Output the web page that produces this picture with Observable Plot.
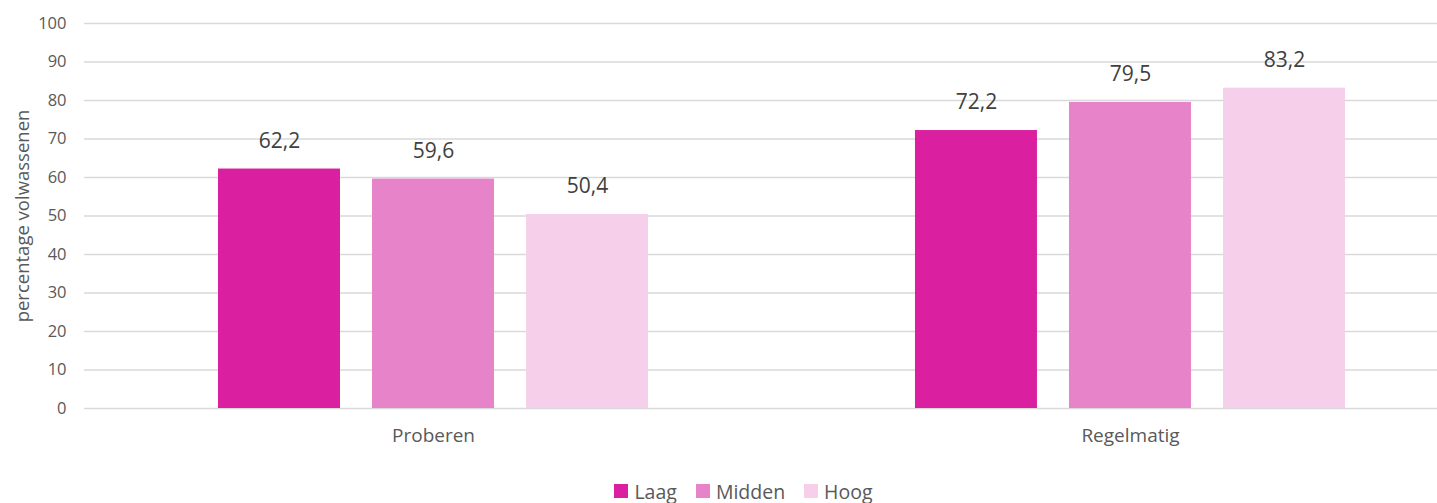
<!DOCTYPE html>
<html>
<head>
<meta charset="utf-8">
<script src="https://cdn.jsdelivr.net/npm/d3@7"></script>
<script src="https://cdn.jsdelivr.net/npm/@observablehq/plot@0.6"></script>
<style>
  body { margin: 0; background: #fff; font-family: "Open Sans", "Liberation Sans", sans-serif; overflow: hidden; }
  #chart { position: relative; width: 1437px; height: 465px; }
  #chart svg { position: absolute; left: 0; top: 0; }
  #legend { display: flex; justify-content: center; align-items: center; height: 30px; margin-top: 11px;
            padding-left: 50px; box-sizing: border-box; width: 1437px; color: #595959; font-size: 19.5px; }
  #legend .item { display: flex; align-items: center; margin: 0 9.5px; }
  #legend .swatch { width: 14px; height: 14px; margin-right: 6px; }
</style>
</head>
<body>
<div id="chart"></div>
<div id="legend"></div>
<script>
// Categories, groups and values
const categories = ["Proberen", "Regelmatig"];
const levels = ["Laag", "Midden", "Hoog"];
const proberen = [62.2, 59.6, 50.4];
const regelmatig = [72.2, 79.5, 83.2];
const yTicks = [0, 10, 20, 30, 40, 50, 60, 70, 80, 90, 100];
const colors = ["#DA20A0", "#E783C9", "#F6D0EA"];

const rows = [proberen, regelmatig].flatMap((vals, i) =>
  vals.map((v, j) => ({category: categories[i], level: levels[j], value: v}))
);
const fmt = v => d3.format(".1f")(v).replace(".", ",");

const W = 1437, H = 465, MT = 23, MB = 57;
const font = "'Open Sans', 'Liberation Sans', sans-serif";

// Background layer: gridlines, y axis and its title across the full width
const grid = Plot.plot({
  width: W, height: H,
  marginLeft: 84, marginRight: 0, marginTop: MT, marginBottom: MB,
  style: {fontFamily: font, color: "#595959", background: "transparent"},
  y: {domain: [0, 100]},
  marks: [
    Plot.ruleY(yTicks, {stroke: "#d9d9d9", strokeWidth: 1.5}),
    Plot.axisY(yTicks, {tickSize: 0, tickPadding: 18, label: null, fontSize: 16.5, fill: "#595959"}),
    Plot.text(["percentage volwassenen"], {frameAnchor: "left", textAnchor: "middle", rotate: -90,
                                          dx: -61, fontSize: 18.5, fill: "#595959"})
  ]
});

// Foreground layer: grouped bars with value labels and category labels
const bars = Plot.plot({
  width: W, height: H,
  marginLeft: 218, marginRight: W - 1345, marginTop: MT, marginBottom: MB,
  style: {fontFamily: font, color: "#595959", background: "transparent"},
  fx: {domain: categories, paddingInner: 0.383, paddingOuter: 0, round: false, label: null},
  x: {domain: levels, paddingInner: 0.208, paddingOuter: 0, round: false, axis: null},
  y: {domain: [0, 100], axis: null},
  color: {domain: levels, range: colors},
  marks: [
    Plot.barY(rows, {fx: "category", x: "level", y: "value", fill: "level"}),
    Plot.text(rows, {fx: "category", x: "level", y: "value", text: d => fmt(d.value),
                     dy: -28, fontSize: 21, fill: "#404040"}),
    Plot.axisFx({anchor: "bottom", tickSize: 0, tickPadding: 20, label: null, fontSize: 19, fill: "#595959"})
  ]
});

const chart = document.getElementById("chart");
chart.appendChild(grid);
chart.appendChild(bars);

// Legend
const legend = document.getElementById("legend");
levels.forEach((lv, i) => {
  const item = document.createElement("div");
  item.className = "item";
  const sw = document.createElement("span");
  sw.className = "swatch";
  sw.style.background = colors[i];
  const label = document.createElement("span");
  label.textContent = lv;
  item.appendChild(sw);
  item.appendChild(label);
  legend.appendChild(item);
});
</script>
</body>
</html>
